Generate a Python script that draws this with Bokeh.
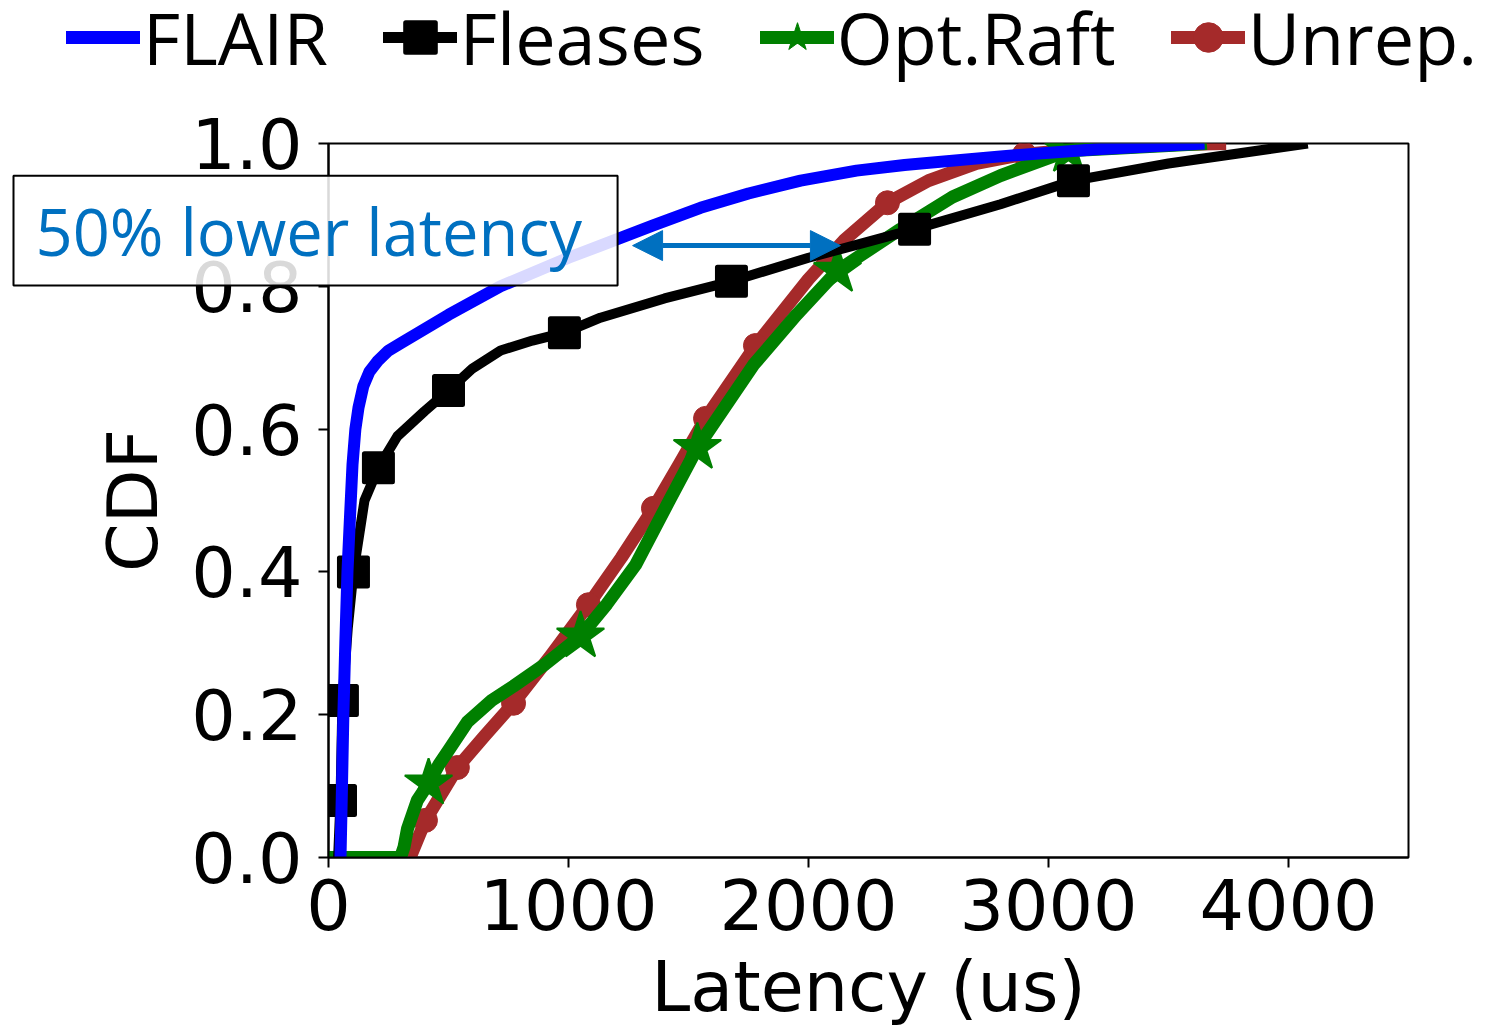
from bokeh.plotting import figure
from bokeh.layouts import column
from bokeh.models import (Legend, LegendItem, FixedTicker, PrintfTickFormatter,
                          Arrow, NormalHead, Range1d)
from bokeh.core.properties import value
from bokeh.embed import file_html
from bokeh.resources import INLINE

# ---------------- data (latency in us, CDF) ----------------
flair_x = [50, 55, 62, 70, 79, 90, 100, 112, 125, 145, 170, 204, 250, 300, 400, 500, 717, 1000, 1133,
           1350, 1550, 1750, 1967, 2200, 2400, 2800, 3200, 3650]
flair_y = [0.0, 0.08, 0.2, 0.3, 0.4, 0.48, 0.55, 0.6, 0.63, 0.66, 0.68, 0.695, 0.71, 0.72, 0.74, 0.76, 0.80,
           0.84, 0.857, 0.885, 0.91, 0.93, 0.948, 0.962, 0.97, 0.982, 0.992, 1.0]

fleases_x = [40, 50, 58, 80, 104, 150, 208, 287, 400, 500, 600, 717, 850, 983, 1133, 1400, 1679, 2000,
             2200, 2442, 2800, 3104, 3500, 4080]
fleases_y = [0.0, 0.08, 0.22, 0.32, 0.40, 0.50, 0.546, 0.59, 0.625, 0.654, 0.685, 0.71, 0.724, 0.735,
             0.756, 0.783, 0.807, 0.84, 0.858, 0.88, 0.915, 0.948, 0.972, 1.0]
fleases_marks = [1, 2, 4, 6, 9, 13, 16, 19, 21]

raft_x = [0, 300, 315, 329, 370, 417, 460, 500, 579, 680, 771, 900, 1050, 1160, 1280, 1420, 1537, 1650,
          1771, 1950, 2121, 2383, 2600, 2800, 3083, 3660]
raft_y = [0.0, 0.0, 0.015, 0.04, 0.08, 0.104, 0.13, 0.15, 0.19, 0.22, 0.24, 0.27, 0.31, 0.355, 0.41, 0.50,
          0.574, 0.63, 0.69, 0.76, 0.822, 0.88, 0.925, 0.955, 0.99, 1.0]
raft_marks = [5, 12, 16, 20, 24]

unrep_x = [340, 404, 537, 650, 771, 920, 1083, 1220, 1354, 1460, 1571, 1779, 2000, 2150, 2329, 2500,
           2700, 2900, 3300, 3740]
unrep_y = [0.0, 0.052, 0.126, 0.17, 0.216, 0.28, 0.354, 0.42, 0.489, 0.55, 0.615, 0.717, 0.81, 0.865,
           0.917, 0.948, 0.972, 0.985, 0.997, 1.0]
unrep_marks = [1, 2, 4, 6, 8, 10, 11, 14, 17]

series_names = ["FLAIR", "Fleases", "Opt.Raft", "Unrep."]
x_ticks = [0, 1000, 2000, 3000, 4000]
y_ticks = [0.0, 0.2, 0.4, 0.6, 0.8, 1.0]
x_label = "Latency (us)"
y_label = "CDF"

arrow_x = [1267, 2133]
arrow_y = 0.857
note_text = "50% lower latency"

BLUE, BLACK, GREEN, BROWN = "blue", "black", "green", "brown"
NOTE = "#0070C0"
LEG_H = 95

# ---------------- main figure ----------------
p = figure(width=1506, height=1031 - LEG_H, output_backend="svg", toolbar_location=None,
           x_range=Range1d(0, 4500), y_range=Range1d(0, 1.0), frame_align=False,
           min_border_left=328, min_border_right=98, min_border_top=143 - LEG_H, min_border_bottom=174)
p.xgrid.visible = False
p.ygrid.visible = False
p.outline_line_color = "black"
p.outline_line_width = 2
p.background_fill_color = "white"
p.border_fill_color = "white"

tick_font = "DejaVu Sans"
for ax in (p.xaxis[0], p.yaxis[0]):
    ax.axis_line_width = 2
    ax.axis_line_color = "black"
    ax.major_tick_line_width = 2
    ax.major_tick_out = 10
    ax.major_tick_in = 0
    ax.minor_tick_line_color = None
    ax.major_label_text_font = tick_font
    ax.major_label_text_font_size = "70px"
    ax.major_label_text_color = "black"
    ax.axis_label_text_font = tick_font
    ax.axis_label_text_font_size = "70px"
    ax.axis_label_text_font_style = "normal"
    ax.axis_label_text_color = "black"

p.xaxis.ticker = FixedTicker(ticks=x_ticks)
p.xaxis.major_label_overrides = {t: str(t) for t in x_ticks}
p.yaxis.ticker = FixedTicker(ticks=y_ticks)
p.yaxis.formatter = PrintfTickFormatter(format="%.1f")
p.yaxis.axis_label = y_label
p.xaxis.major_label_standoff = 11
p.yaxis.major_label_standoff = 16
p.yaxis.axis_label_standoff = 14

# x-axis title drawn as an overlay text so it can sit lower than the axis panel allows
p.text(x=[2250], y=[-0.181], text=[x_label], text_align="center", text_baseline="alphabetic",
       text_font=value(tick_font), text_font_size=value("70px"), text_color="black", level="overlay")

# ---------------- series ----------------
p.line(unrep_x, unrep_y, line_color=BROWN, line_width=13, line_join="round")
p.scatter([unrep_x[i] for i in unrep_marks], [unrep_y[i] for i in unrep_marks],
          marker="circle", size=24, fill_color=BROWN, line_color=BROWN)

p.line(raft_x, raft_y, line_color=GREEN, line_width=13, line_join="round")
p.scatter([raft_x[i] for i in raft_marks], [raft_y[i] for i in raft_marks],
          marker="star", size=50, fill_color=GREEN, line_color=GREEN, line_width=2)

p.line(fleases_x, fleases_y, line_color=BLACK, line_width=10, line_join="round")
p.scatter([fleases_x[i] for i in fleases_marks], [fleases_y[i] for i in fleases_marks],
          marker="square", size=28, fill_color=BLACK, line_color=BLACK, line_width=5, line_join="round")

p.line(flair_x, flair_y, line_color=BLUE, line_width=12, line_join="round")

# ---------------- annotation ----------------
p.add_layout(Arrow(start=NormalHead(size=30, fill_color=NOTE, line_color=NOTE),
                   end=NormalHead(size=30, fill_color=NOTE, line_color=NOTE),
                   x_start=arrow_x[0], y_start=arrow_y, x_end=arrow_x[1], y_end=arrow_y,
                   line_color=NOTE, line_width=5))

p.rect(x=[-54], y=[0.878], width=[2517], height=[0.154], fill_color="white", fill_alpha=0.85,
       line_color="black", line_width=2, level="overlay")
p.text(x=[-1221], y=[0.878], text=[note_text], text_baseline="middle", text_align="left",
       text_font=value("Open Sans"), text_font_size=value("65px"), text_color=NOTE, level="overlay")

# ---------------- legend strip on top ----------------
leg = figure(width=1506, height=LEG_H, output_backend="svg", toolbar_location=None,
             x_range=Range1d(0, 1), y_range=Range1d(0, 1), min_border=0, frame_align=False)
leg.axis.visible = False
leg.grid.visible = False
leg.outline_line_color = None
leg.background_fill_color = "white"
leg.border_fill_color = "white"
nan = float("nan")
k_fa = leg.line([nan], [nan], line_color=BLUE, line_width=13, line_cap="round")
k_fl = leg.line([nan], [nan], line_color=BLACK, line_width=11, line_cap="round")
k_flm = leg.scatter([nan], [nan], marker="square", size=24, fill_color=BLACK, line_color=BLACK,
                    line_width=5, line_join="round")
k_or = leg.line([nan], [nan], line_color=GREEN, line_width=13, line_cap="round")
k_orm = leg.scatter([nan], [nan], marker="star", size=50, fill_color=GREEN, line_color=GREEN)
k_ur = leg.line([nan], [nan], line_color=BROWN, line_width=13, line_cap="round")
k_urm = leg.scatter([nan], [nan], marker="circle", size=24, fill_color=BROWN, line_color=BROWN)

legend = Legend(items=[
    LegendItem(label=series_names[0], renderers=[k_fa]),
    LegendItem(label=series_names[1], renderers=[k_fl, k_flm]),
    LegendItem(label=series_names[2], renderers=[k_or, k_orm]),
    LegendItem(label=series_names[3], renderers=[k_ur, k_urm]),
], orientation="horizontal", location=(66, 9),
    glyph_width=74, glyph_height=80, label_standoff=3, spacing=55,
    padding=0, margin=0, border_line_color=None, background_fill_alpha=0,
    label_text_font="Open Sans", label_text_font_size="72px", label_text_color="black")
leg.add_layout(legend)

layout = column(leg, p, spacing=0)
open("out.html", "w").write(file_html(layout, INLINE))
